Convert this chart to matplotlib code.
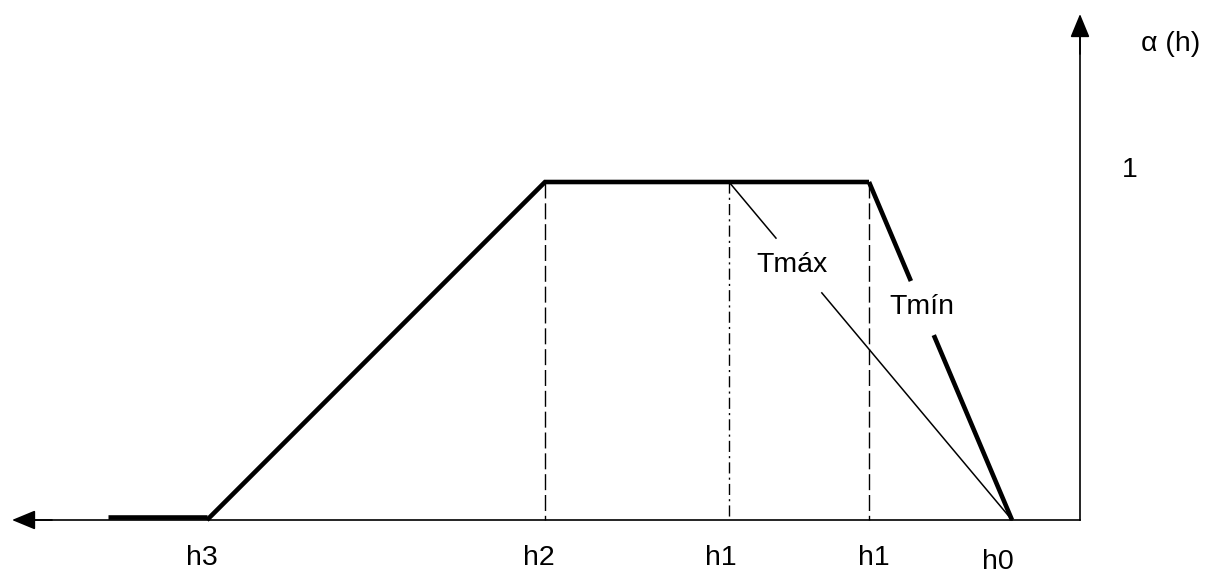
import matplotlib
matplotlib.use("Agg")
import matplotlib.pyplot as plt

plt.rcParams['font.family'] = ['Liberation Sans', 'DejaVu Sans']

# Data (diagram coordinates, horizontal position of each h, membership alpha)
h_labels = ["h3", "h2", "h1", "h1", "h0"]
h_pos = [207, 545, 729, 869, 1012]
alpha_low = 0.0
alpha_high = 1.0
h_tail = 108          # left end of the flat zero segment
x_axis_left = 12
x_axis_right = 1080   # position of vertical axis

# label placement offsets (layout only)
label_dx = [-5, -6, -8, 5, -14]
label_y = [558, 558, 558, 558, 562]

# mapping of alpha to vertical pixel-like units
y0 = 520
y1 = 182
def ay(a):
    return y0 + (y1 - y0) * a

fig = plt.figure(figsize=(12.09, 5.73), dpi=100)
ax = fig.add_axes([0, 0, 1, 1])
ax.set_xlim(0, 1209)
ax.set_ylim(573, 0)
ax.axis('off')

arrow_kw = dict(arrowstyle='-|>,head_length=1.45,head_width=0.6', color='black',
                lw=1.2, shrinkA=0, shrinkB=0, mutation_scale=10)
# axes
ax.plot([x_axis_left + 18, x_axis_right], [y0, y0], color='black', lw=1.2)
ax.annotate('', xy=(x_axis_left, y0), xytext=(x_axis_left + 40, y0), arrowprops=arrow_kw)
ax.plot([x_axis_right, x_axis_right], [y0, 30], color='black', lw=1.2)
ax.annotate('', xy=(x_axis_right, 14), xytext=(x_axis_right, 54), arrowprops=arrow_kw)

LW = 3.3
# thick membership (Tmin) curve
ax.plot([h_tail, h_pos[0]], [ay(alpha_low) - 3, ay(alpha_low) - 3], color='black', lw=LW, solid_capstyle='butt')
ax.plot([h_pos[0], h_pos[1], h_pos[3]], [ay(alpha_low), ay(alpha_high), ay(alpha_high)],
        color='black', lw=LW, solid_capstyle='butt', solid_joinstyle='miter')
def lerp(xa, ya, xb, yb, t):
    return xa + (xb - xa) * t, ya + (yb - ya) * t
xa, ya_ = h_pos[3], ay(alpha_high)
xb, yb = h_pos[4], ay(alpha_low)
p1 = lerp(xa, ya_, xb, yb, 0.293)
p2 = lerp(xa, ya_, xb, yb, 0.453)
ax.plot([xa, p1[0]], [ya_, p1[1]], color='black', lw=LW, solid_capstyle='butt')
ax.plot([p2[0], xb], [p2[1], yb], color='black', lw=LW, solid_capstyle='butt')

# Tmax thin line with gap
xa, ya_ = h_pos[2], ay(alpha_high)
q1 = lerp(xa, ya_, xb, yb, 0.166)
q2 = lerp(xa, ya_, xb, yb, 0.328)
ax.plot([xa, q1[0]], [ya_, q1[1]], color='black', lw=1.1)
ax.plot([q2[0], xb], [q2[1], yb], color='black', lw=1.1)

# vertical guides
ax.plot([h_pos[1], h_pos[1]], [ay(alpha_high), y0], color='black', lw=1.0, ls=(0, (11.5, 3.5)))
ax.plot([h_pos[2], h_pos[2]], [ay(alpha_high), y0], color='black', lw=1.0, ls=(0, (8, 3, 1.5, 3)))
ax.plot([h_pos[3], h_pos[3]], [ay(alpha_high), y0], color='black', lw=1.0, ls=(0, (11.5, 3.5)))

# labels
fs = 20.5
for lab, x, dx, yy in zip(h_labels, h_pos, label_dx, label_y):
    ax.text(x + dx, yy, lab, ha='center', va='center', fontsize=fs)
ax.text(1171, 44, "α (h)", ha='center', va='center', fontsize=fs)
ax.text(1130, 170, "1", ha='center', va='center', fontsize=fs)
ax.text(792, 265, "Tmáx", ha='center', va='center', fontsize=fs)
ax.text(922, 307, "Tmín", ha='center', va='center', fontsize=fs)

fig.savefig("out.png", dpi=100)
